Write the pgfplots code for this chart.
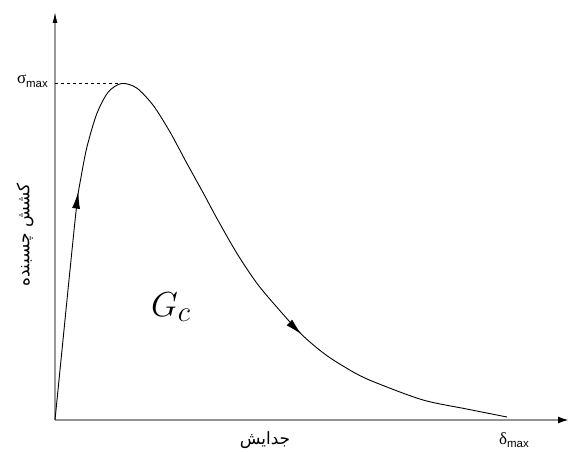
\documentclass[border=0pt]{standalone}
\usepackage{pgfplots}
\pgfplotsset{compat=1.18}
\usepackage{fontspec}
\usetikzlibrary{arrows.meta,decorations.markings}
\setmainfont{Liberation Sans}
\newfontfamily\serifgr{Liberation Serif}
\newfontfamily\arabicfont[Script=Arabic]{DejaVu Sans}
\TeXXeTstate=1

\begin{document}
\begin{tikzpicture}
  % frame of the whole picture (pixels of the reference, origin at the axes' corner)
  \useasboundingbox (-55bp,-32bp) rectangle (515bp,420bp);
  \begin{axis}[
      x=1bp, y=1bp,
      xmin=0, xmax=514,
      ymin=0, ymax=408,
      axis lines=left,
      xtick=\empty, ytick=\empty,
      x axis line style={gray!85, line width=1.8pt, -{Latex[length=11pt,width=7pt,black]}},
      y axis line style={gray!80, line width=1.1pt, -{Latex[length=11pt,width=5pt,black]}},
      clip=false,
    ]

    % traction-separation curve
    \addplot[
      black, line width=0.9pt, smooth,
      postaction={decorate},
      decoration={markings,
        mark=at position 0.258 with {\arrow{Latex[length=17pt,width=8pt]}},
        mark=at position 0.747 with {\arrow{Latex[length=17pt,width=8pt]}}},
    ] coordinates {
      (0,0) (5,50) (10,100) (15,150) (20,199) (23.3,228) (25.5,240)
      (31.7,272) (41.7,306) (53.3,328) (66.7,336.5) (81.7,332)
      (98.3,314.5) (115,288) (131.7,257) (148,227.5) (161.7,202)
      (181.7,167) (201.7,137) (221.7,113) (246.7,85.5) (271.7,64.5)
      (300,47) (321.7,37) (368,20) (411.7,11) (452,3)
    };

    % sigma_max level
    \addplot[black, dashed, line width=0.5pt] coordinates {(0,337) (66.7,337)};

    \node[anchor=east, inner sep=0pt] at (axis cs:-7,339)
      {\fontsize{17}{19}\selectfont{\serifgr σ}\raisebox{-0.4ex}{\fontsize{11.5}{13}\selectfont max}};
    \node[anchor=north, inner sep=0pt] at (axis cs:459,-12)
      {\fontsize{17}{19}\selectfont{\serifgr δ}\raisebox{-0.4ex}{\fontsize{11.5}{13}\selectfont max}};

    % cm math fonts stop at 24.88pt, so the label is scaled up
    \node[scale=1.4] at (axis cs:116,113) {\fontsize{24.88}{28}\selectfont $G_c$};

    \node[anchor=north, inner sep=0pt] at (axis cs:210,-11)
      {\fontsize{17}{19}\selectfont\arabicfont\beginR جدایش\endR};
    \node[rotate=90, inner sep=0pt] at (axis cs:-30,185)
      {\fontsize{17}{19}\selectfont\arabicfont\beginR کشش چسبنده\endR};
  \end{axis}
\end{tikzpicture}
\end{document}
